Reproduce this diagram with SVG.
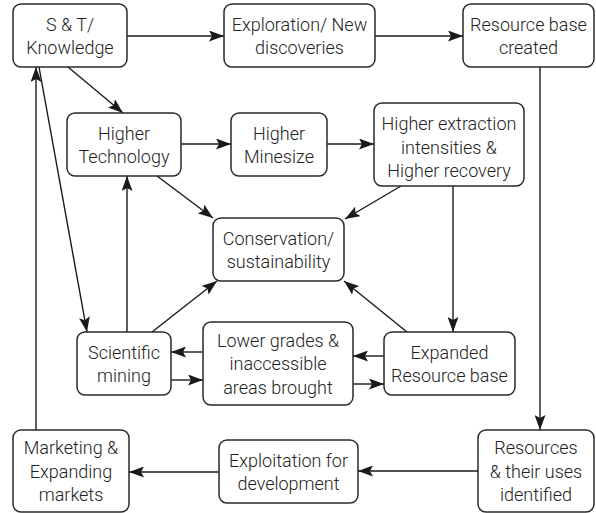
<svg xmlns="http://www.w3.org/2000/svg" width="596" height="513" viewBox="0 0 596 513">
  <style>
    .box { fill: #ffffff; stroke: #2a2a2a; stroke-width: 1.5; }
    .lbl { font-family: Roboto, "Liberation Sans", sans-serif; font-weight: 300; font-size: 18px; fill: #222222; text-anchor: middle; }
    .cn { fill: none; stroke: #1a1a1a; stroke-width: 1.4; marker-end: url(#ah); }
    .ln { fill: none; stroke: #1a1a1a; stroke-width: 1.4; }
  </style>
  <defs>
    <marker id="ah" viewBox="0 0 15 11" refX="15" refY="5.5" markerWidth="15" markerHeight="11" markerUnits="userSpaceOnUse" orient="auto">
      <path d="M0,0 L15,5.5 L0,11 L3,5.5 z" fill="#1a1a1a"/>
    </marker>
  </defs>
  <rect width="596" height="513" fill="#ffffff"/>

  <!-- connectors -->
  <g id="connectors">
    <line class="cn" x1="127" y1="36" x2="224" y2="36"/>
    <line class="cn" x1="375" y1="36" x2="463" y2="36"/>
    <line class="cn" x1="540" y1="67" x2="540" y2="430"/>
    <line class="cn" x1="478" y1="471" x2="358" y2="471"/>
    <line class="cn" x1="219" y1="472" x2="129" y2="472"/>
    <line class="cn" x1="36" y1="430" x2="36" y2="67"/>
    <line class="cn" x1="39" y1="67" x2="87" y2="332"/>
    <line class="cn" x1="68" y1="67" x2="123" y2="113"/>
    <line class="cn" x1="181" y1="144" x2="231" y2="144"/>
    <line class="cn" x1="327" y1="144" x2="374" y2="144"/>
    <line class="cn" x1="157" y1="176" x2="213" y2="218"/>
    <line class="cn" x1="401" y1="186" x2="345" y2="219"/>
    <line class="cn" x1="453" y1="186" x2="453" y2="332"/>
    <line class="cn" x1="407" y1="332" x2="344" y2="281"/>
    <line class="cn" x1="152" y1="332" x2="217" y2="281"/>
    <line class="cn" x1="127" y1="332" x2="127" y2="176"/>
    <line class="cn" x1="203" y1="352" x2="171" y2="352"/>
    <line class="cn" x1="171" y1="380" x2="203" y2="380"/>
    <line class="cn" x1="384" y1="356" x2="353" y2="356"/>
    <line class="cn" x1="353" y1="384" x2="384" y2="384"/>
  </g>

  <!-- nodes -->
  <g id="st-knowledge">
    <rect class="box" x="13" y="4" width="114" height="63" rx="8"/>
    <text class="lbl" x="70" y="30.5">S &amp; T/</text>
    <text class="lbl" x="70" y="54">Knowledge</text>
  </g>
  <g id="exploration">
    <rect class="box" x="224" y="4" width="151" height="63" rx="8"/>
    <text class="lbl" x="299.5" y="30.5">Exploration/ New</text>
    <text class="lbl" x="299.5" y="54">discoveries</text>
  </g>
  <g id="resource-base-created">
    <rect class="box" x="463" y="4" width="131" height="63" rx="8"/>
    <text class="lbl" x="528.5" y="30.5">Resource base</text>
    <text class="lbl" x="528.5" y="54">created</text>
  </g>
  <g id="higher-technology">
    <rect class="box" x="67" y="113" width="114" height="63" rx="8"/>
    <text class="lbl" x="124" y="139.5">Higher</text>
    <text class="lbl" x="124" y="163">Technology</text>
  </g>
  <g id="higher-minesize">
    <rect class="box" x="231" y="113" width="96" height="63" rx="8"/>
    <text class="lbl" x="279" y="139.5">Higher</text>
    <text class="lbl" x="279" y="163">Minesize</text>
  </g>
  <g id="higher-extraction">
    <rect class="box" x="374" y="103" width="150" height="83" rx="8"/>
    <text class="lbl" x="449" y="130">Higher extraction</text>
    <text class="lbl" x="449" y="153.5">intensities &amp;</text>
    <text class="lbl" x="449" y="177">Higher recovery</text>
  </g>
  <g id="conservation">
    <rect class="box" x="213" y="218" width="131" height="63" rx="8"/>
    <text class="lbl" x="278.5" y="244.5">Conservation/</text>
    <text class="lbl" x="278.5" y="268">sustainability</text>
  </g>
  <g id="scientific-mining">
    <rect class="box" x="77" y="332" width="94" height="63" rx="8"/>
    <text class="lbl" x="124" y="358.5">Scientific</text>
    <text class="lbl" x="124" y="382">mining</text>
  </g>
  <g id="lower-grades">
    <rect class="box" x="203" y="322" width="150" height="83" rx="8"/>
    <text class="lbl" x="278" y="346.5">Lower grades &amp;</text>
    <text class="lbl" x="278" y="370">inaccessible</text>
    <text class="lbl" x="278" y="393.5">areas brought</text>
  </g>
  <g id="expanded-resource-base">
    <rect class="box" x="384" y="332" width="131" height="63" rx="8"/>
    <text class="lbl" x="449.5" y="358.5">Expanded</text>
    <text class="lbl" x="449.5" y="382">Resource base</text>
  </g>
  <g id="marketing">
    <rect class="box" x="13" y="430" width="116" height="82" rx="8"/>
    <text class="lbl" x="71" y="454">Marketing &amp;</text>
    <text class="lbl" x="71" y="477.5">Expanding</text>
    <text class="lbl" x="71" y="501">markets</text>
  </g>
  <g id="exploitation">
    <rect class="box" x="219" y="440" width="139" height="63" rx="8"/>
    <text class="lbl" x="288.5" y="466.5">Exploitation for</text>
    <text class="lbl" x="288.5" y="490">development</text>
  </g>
  <g id="resources-identified">
    <rect class="box" x="478" y="430" width="116" height="82" rx="8"/>
    <text class="lbl" x="536" y="454">Resources</text>
    <text class="lbl" x="536" y="477.5">&amp; their uses</text>
    <text class="lbl" x="536" y="501">identified</text>
  </g>
</svg>
